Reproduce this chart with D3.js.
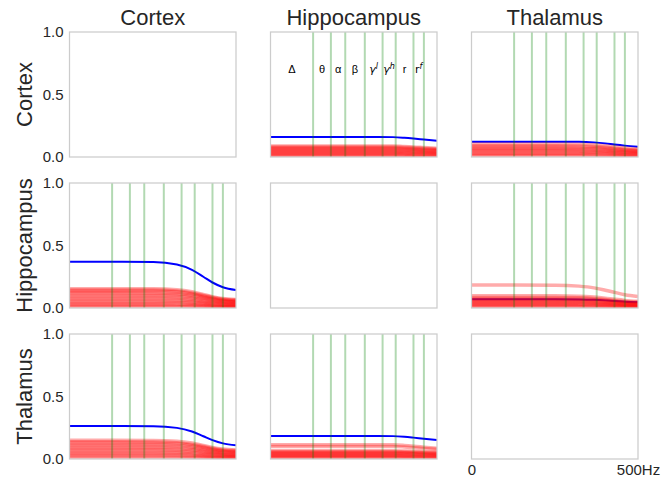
<!DOCTYPE html>
<html>
<head>
<meta charset="utf-8">
<script src="https://cdn.jsdelivr.net/npm/d3@7"></script>
<style>
  html, body { margin: 0; padding: 0; background: #fff; }
  svg { display: block; font-family: "Liberation Sans", Arial, sans-serif; }
</style>
</head>
<body>
<svg id="chart" width="665" height="481"></svg>
<script>
// Regions: rows are the source, columns the target
const regions = ["Cortex", "Hippocampus", "Thalamus"];

// Frequency grid (Hz) shared by every curve
const freqs = [0.76, 20, 50, 90, 140, 200, 300, 500];

// Band boundaries (Hz) and the band names written between them
const bandEdges = [0.76, 4, 8, 14, 30, 60, 100, 200, 300];
const bandLabels = [
  { base: "Δ" }, { base: "θ" }, { base: "α" }, { base: "β" },
  { base: "γ", sup: "l", math: true }, { base: "γ", sup: "h", math: true },
  { base: "r" }, { base: "r", sup: "f", math: true }
];

const yTicks = [0, 0.5, 1.0];
const xTickValues = [0.76, 500];
const xTickLabels = ["0", "500Hz"];

// Cortex -> Hippocampus
const blueCtxHip = [0.160, 0.160, 0.160, 0.159, 0.154, 0.148, 0.140, 0.130];
const redCtxHip = [
  [0.088, 0.088, 0.088, 0.088, 0.084, 0.081, 0.076, 0.070],
  [0.080, 0.080, 0.080, 0.080, 0.077, 0.074, 0.069, 0.064],
  [0.072, 0.072, 0.072, 0.072, 0.069, 0.066, 0.062, 0.058],
  [0.064, 0.064, 0.064, 0.064, 0.061, 0.059, 0.055, 0.051],
  [0.056, 0.056, 0.056, 0.056, 0.054, 0.052, 0.048, 0.045],
  [0.048, 0.048, 0.048, 0.048, 0.046, 0.044, 0.041, 0.038],
  [0.040, 0.040, 0.040, 0.040, 0.038, 0.037, 0.035, 0.032],
  [0.032, 0.032, 0.032, 0.032, 0.031, 0.029, 0.028, 0.026],
  [0.024, 0.024, 0.024, 0.024, 0.023, 0.022, 0.021, 0.019],
  [0.016, 0.016, 0.016, 0.016, 0.015, 0.015, 0.014, 0.013],
  [0.008, 0.008, 0.008, 0.008, 0.008, 0.007, 0.007, 0.006]
];

// Cortex -> Thalamus
const blueCtxThal = [0.123, 0.123, 0.122, 0.117, 0.109, 0.100, 0.091, 0.082];
const redCtxThal = [
  [0.104, 0.104, 0.103, 0.098, 0.090, 0.082, 0.073, 0.064],
  [0.090, 0.090, 0.089, 0.085, 0.078, 0.071, 0.063, 0.056],
  [0.080, 0.080, 0.079, 0.075, 0.069, 0.063, 0.056, 0.050],
  [0.070, 0.070, 0.069, 0.066, 0.061, 0.055, 0.049, 0.043],
  [0.060, 0.060, 0.059, 0.056, 0.052, 0.047, 0.042, 0.037],
  [0.050, 0.050, 0.049, 0.047, 0.043, 0.039, 0.035, 0.031],
  [0.040, 0.040, 0.040, 0.038, 0.035, 0.032, 0.028, 0.025],
  [0.030, 0.030, 0.030, 0.028, 0.026, 0.024, 0.021, 0.019],
  [0.020, 0.020, 0.020, 0.019, 0.017, 0.016, 0.014, 0.012],
  [0.010, 0.010, 0.010, 0.009, 0.009, 0.008, 0.007, 0.006]
];

// Hippocampus -> Cortex
const blueHipCtx = [0.370, 0.368, 0.348, 0.305, 0.250, 0.204, 0.166, 0.144];
const redHipCtx = [
  [0.155, 0.154, 0.147, 0.130, 0.108, 0.091, 0.076, 0.068],
  [0.145, 0.144, 0.137, 0.121, 0.101, 0.085, 0.071, 0.063],
  [0.135, 0.134, 0.128, 0.113, 0.094, 0.079, 0.066, 0.059],
  [0.122, 0.121, 0.115, 0.102, 0.085, 0.072, 0.060, 0.053],
  [0.110, 0.109, 0.104, 0.092, 0.077, 0.064, 0.054, 0.048],
  [0.097, 0.096, 0.092, 0.081, 0.068, 0.057, 0.048, 0.042],
  [0.083, 0.083, 0.079, 0.070, 0.058, 0.049, 0.041, 0.036],
  [0.070, 0.070, 0.066, 0.059, 0.049, 0.041, 0.034, 0.031],
  [0.057, 0.057, 0.054, 0.048, 0.040, 0.034, 0.028, 0.025],
  [0.045, 0.045, 0.043, 0.038, 0.032, 0.026, 0.022, 0.020],
  [0.033, 0.033, 0.031, 0.028, 0.023, 0.019, 0.016, 0.014],
  [0.022, 0.022, 0.021, 0.018, 0.016, 0.013, 0.011, 0.010],
  [0.012, 0.012, 0.011, 0.010, 0.009, 0.007, 0.006, 0.005]
];

// Hippocampus -> Thalamus
const blueHipThal = [0.070, 0.070, 0.069, 0.066, 0.061, 0.056, 0.050, 0.046];
const redHipThal = [
  [0.184, 0.183, 0.175, 0.161, 0.142, 0.125, 0.106, 0.092],
  [0.098, 0.098, 0.095, 0.088, 0.079, 0.070, 0.061, 0.054],
  [0.085, 0.085, 0.082, 0.076, 0.068, 0.060, 0.052, 0.047],
  [0.075, 0.075, 0.072, 0.067, 0.060, 0.053, 0.046, 0.041],
  [0.066, 0.066, 0.064, 0.059, 0.053, 0.047, 0.040, 0.036],
  [0.058, 0.058, 0.056, 0.052, 0.046, 0.041, 0.035, 0.032],
  [0.050, 0.050, 0.048, 0.045, 0.040, 0.035, 0.030, 0.028],
  [0.042, 0.042, 0.041, 0.038, 0.034, 0.030, 0.026, 0.023],
  [0.034, 0.034, 0.033, 0.031, 0.027, 0.024, 0.021, 0.019],
  [0.026, 0.026, 0.025, 0.023, 0.021, 0.018, 0.016, 0.014],
  [0.018, 0.018, 0.017, 0.016, 0.014, 0.013, 0.011, 0.010],
  [0.010, 0.010, 0.010, 0.009, 0.008, 0.007, 0.006, 0.006]
];

// Thalamus -> Cortex
const blueThalCtx = [0.264, 0.262, 0.249, 0.220, 0.182, 0.151, 0.125, 0.110];
const redThalCtx = [
  [0.150, 0.149, 0.143, 0.128, 0.109, 0.093, 0.080, 0.072],
  [0.138, 0.137, 0.131, 0.117, 0.100, 0.086, 0.073, 0.067],
  [0.126, 0.125, 0.120, 0.107, 0.092, 0.078, 0.067, 0.061],
  [0.113, 0.112, 0.107, 0.096, 0.082, 0.070, 0.060, 0.055],
  [0.100, 0.099, 0.095, 0.085, 0.073, 0.062, 0.053, 0.048],
  [0.087, 0.087, 0.083, 0.074, 0.063, 0.054, 0.046, 0.042],
  [0.074, 0.074, 0.070, 0.063, 0.054, 0.046, 0.039, 0.035],
  [0.061, 0.061, 0.058, 0.052, 0.044, 0.038, 0.032, 0.029],
  [0.048, 0.048, 0.046, 0.041, 0.035, 0.030, 0.026, 0.024],
  [0.036, 0.036, 0.034, 0.031, 0.026, 0.022, 0.019, 0.017],
  [0.024, 0.024, 0.023, 0.020, 0.018, 0.015, 0.013, 0.012],
  [0.013, 0.013, 0.012, 0.011, 0.010, 0.008, 0.007, 0.006]
];

// Thalamus -> Hippocampus
const blueThalHip = [0.184, 0.184, 0.184, 0.183, 0.178, 0.171, 0.162, 0.152];
const redThalHip = [
  [0.115, 0.115, 0.115, 0.114, 0.109, 0.103, 0.095, 0.085],
  [0.100, 0.100, 0.100, 0.100, 0.096, 0.091, 0.085, 0.078],
  [0.066, 0.066, 0.066, 0.066, 0.064, 0.062, 0.059, 0.056],
  [0.059, 0.059, 0.059, 0.059, 0.057, 0.055, 0.053, 0.050],
  [0.052, 0.052, 0.052, 0.052, 0.050, 0.049, 0.047, 0.044],
  [0.045, 0.045, 0.045, 0.045, 0.044, 0.042, 0.040, 0.038],
  [0.038, 0.038, 0.038, 0.038, 0.037, 0.036, 0.034, 0.032],
  [0.031, 0.031, 0.031, 0.031, 0.030, 0.029, 0.028, 0.026],
  [0.024, 0.024, 0.024, 0.024, 0.023, 0.023, 0.022, 0.020],
  [0.017, 0.017, 0.017, 0.017, 0.016, 0.016, 0.015, 0.014],
  [0.010, 0.010, 0.010, 0.010, 0.010, 0.009, 0.009, 0.008]
];

// Grid of panels: [row][col]; diagonal panels stay empty
const panelData = [
  [null, { blue: blueCtxHip, red: redCtxHip }, { blue: blueCtxThal, red: redCtxThal }],
  [{ blue: blueHipCtx, red: redHipCtx }, null, { blue: blueHipThal, red: redHipThal }],
  [{ blue: blueThalCtx, red: redThalCtx }, { blue: blueThalHip, red: redThalHip }, null]
];

// ---- layout ----
const colX = [69.5, 270.5, 471.5];
const rowY = [32, 183, 334];
const pw = 166.5, ph = 125;
const textColor = "#262626";
const spineColor = "#cccccc";

const svg = d3.select("#chart");
const defs = svg.append("defs");

regions.forEach((rowName, r) => {
  regions.forEach((colName, c) => {
    const x0 = colX[c], y0 = rowY[r];
    const x = d3.scaleLog().domain([freqs[0], 500]).range([x0, x0 + pw]);
    const y = d3.scaleLinear().domain([0, 1]).range([y0 + ph, y0]);
    const clipId = `clip-${r}-${c}`;
    defs.append("clipPath").attr("id", clipId)
      .append("rect").attr("x", x0).attr("y", y0).attr("width", pw).attr("height", ph);

    const g = svg.append("g");
    const plot = g.append("g").attr("clip-path", `url(#${clipId})`);
    const d = panelData[r][c];

    if (d) {
      const line = d3.line()
        .x((v, i) => x(freqs[i]))
        .y(v => y(v))
        .curve(d3.curveMonotoneX);

      plot.append("path").datum(d.blue)
        .attr("d", line)
        .attr("fill", "none")
        .attr("stroke", "#0000ff")
        .attr("stroke-width", 2);

      plot.selectAll("path.red").data(d.red).enter().append("path")
        .attr("class", "red")
        .attr("d", line)
        .attr("fill", "none")
        .attr("stroke", "#ff0000")
        .attr("stroke-opacity", 0.33)
        .attr("stroke-width", 3.5);

      plot.selectAll("line.band").data(bandEdges.slice(1)).enter().append("line")
        .attr("class", "band")
        .attr("x1", f => x(f)).attr("x2", f => x(f))
        .attr("y1", y0).attr("y2", y0 + ph)
        .attr("stroke", "#008000")
        .attr("stroke-opacity", 0.3)
        .attr("stroke-width", 2);
    }

    // band names, written once in the first panel of the top row
    if (r === 0 && c === 1) {
      const lab = g.selectAll("text.bandlab").data(bandLabels).enter().append("text")
        .attr("class", "bandlab")
        .attr("x", (b, i) => x(Math.sqrt(bandEdges[i] * bandEdges[i + 1])))
        .attr("y", y(0.67))
        .attr("text-anchor", "middle")
        .attr("font-size", 11)
        .attr("fill", "#000");
      lab.each(function (b) {
        const t = d3.select(this);
        t.append("tspan").text(b.base)
          .attr("font-family", b.math ? "DejaVu Sans" : null)
          .attr("font-style", b.math && b.base === "γ" ? "italic" : null);
        if (b.sup) {
          t.append("tspan").text(b.sup)
            .attr("font-family", "DejaVu Sans")
            .attr("font-style", "italic")
            .attr("font-size", 8)
            .attr("dy", -4);
        }
      });
    }

    // frame
    g.append("rect")
      .attr("x", x0).attr("y", y0).attr("width", pw).attr("height", ph)
      .attr("fill", "none").attr("stroke", spineColor).attr("stroke-width", 1.25);

    // y axis labels on the first column
    if (c === 0) {
      const ax = g.append("g")
        .attr("transform", `translate(${x0},0)`)
        .call(d3.axisLeft(y).tickValues(yTicks).tickFormat(d3.format(".1f")).tickSize(0).tickPadding(6));
      ax.select(".domain").remove();
      ax.selectAll("text").attr("font-size", 15).attr("fill", textColor)
        .attr("font-family", "Liberation Sans, Arial, sans-serif");
    }

    // frequency range on the last panel
    if (r === 2 && c === 2) {
      const ax = g.append("g")
        .attr("transform", `translate(0,${y0 + ph})`)
        .call(d3.axisBottom(x).tickValues(xTickValues)
          .tickFormat((v, i) => xTickLabels[i]).tickSize(0).tickPadding(5));
      ax.select(".domain").remove();
      ax.selectAll("text").attr("font-size", 15).attr("fill", textColor)
        .attr("font-family", "Liberation Sans, Arial, sans-serif");
    }

    // column titles
    if (r === 0) {
      svg.append("text")
        .attr("x", x0 + pw / 2).attr("y", 25)
        .attr("text-anchor", "middle")
        .attr("font-size", 22).attr("fill", textColor)
        .text(colName);
    }
  });

  // row titles
  svg.append("text")
    .attr("transform", `translate(32,${rowY[r] + ph / 2}) rotate(-90)`)
    .attr("text-anchor", "middle")
    .attr("font-size", 22).attr("fill", textColor)
    .text(rowName);
});
</script>
</body>
</html>
